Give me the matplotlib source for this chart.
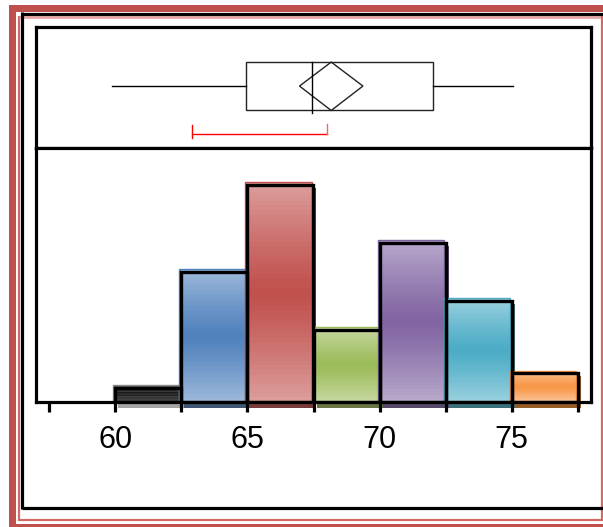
import matplotlib
matplotlib.use('Agg')
import matplotlib.pyplot as plt
import numpy as np
from matplotlib.patches import Rectangle, Polygon
from matplotlib.lines import Line2D
from matplotlib.colors import to_rgb

# ---------------- data ----------------
bin_edges = [60.0, 62.5, 65.0, 67.5, 70.0, 72.5, 75.0, 77.5]
counts = [1, 9, 15, 5, 11, 7, 2]
bar_colors = ['#2a2a2a', '#4F81BD', '#C0504D', '#9BBB59', '#8064A2', '#4BACC6', '#F79646']
shadow_colors = ['#9a9a9a', '#2a4566', '#6a2523', '#55662e', '#45345a', '#24606e', '#8a4a10']
tick_positions = [57.5, 60, 62.5, 65, 67.5, 70, 72.5, 75, 77.5]
tick_labels = ['', '60', '', '65', '', '70', '', '75', '']

box_min, box_q1, box_median, box_q3, box_max = 59.87, 64.93, 67.46, 72.03, 75.05
mean_lo, mean_hi = 66.97, 69.37
short_lo, short_hi = 62.92, 68.01

# ---------------- figure ----------------
W, H = 603, 527
fig = plt.figure(figsize=(W / 100, H / 100), dpi=100)
fig.patch.set_facecolor('white')


def fx(px):
    return px / W


def fy(py):
    return 1 - py / H


def fig_line(xs, ys, color, lw):
    fig.add_artist(Line2D([fx(x) for x in xs], [fy(y) for y in ys],
                          transform=fig.transFigure, color=color, lw=lw,
                          solid_capstyle='butt'))


def fig_rect(x0, y0, x1, y1, color):
    fig.add_artist(Rectangle((fx(x0), fy(y1)), fx(x1) - fx(x0), fy(y0) - fy(y1),
                             transform=fig.transFigure, facecolor=color,
                             edgecolor='none'))


# decorative frame
red = '#C0504D'
fig_rect(9, 5, 16, 527, red)          # thick left band
fig_rect(9, 5, 603, 12, red)          # thick top band
fig_rect(9, 524, 603, 527, red)       # bottom band
fig_line([19, 19], [16, 520.5], '#D46A67', 1.6)
fig_line([19, 603], [16.5, 16.5], '#E6A09E', 1.8)
fig_line([19, 603], [520, 520], '#D46A67', 1.6)
fig_line([601.8, 601.8], [16, 520.5], '#D46A67', 1.6)
fig_line([22.5, 22.5], [12, 509], 'black', 2.3)
fig_line([21.5, 603], [13.5, 13.5], 'black', 2.3)
fig_line([21.5, 603], [508, 508], 'black', 2.3)

# axes placement (pixels)
L, R = 36, 591
T_box, SEP, BASE = 27, 148, 402
ax_box = fig.add_axes([fx(L), fy(SEP), fx(R) - fx(L), fy(T_box) - fy(SEP)])
ax = fig.add_axes([fx(L), fy(BASE), fx(R) - fx(L), fy(SEP) - fy(BASE)])

xlim = (57.0, 78.0)
ylim = (0, 17.55)
for a in (ax_box, ax):
    a.set_xlim(*xlim)
    for s in a.spines.values():
        s.set_linewidth(2.3)
        s.set_color('black')
ax.set_ylim(*ylim)
ax_box.set_ylim(0, 1)
ax_box.set_xticks([])
ax_box.set_yticks([])

# ---------------- histogram ----------------
ux = (xlim[1] - xlim[0]) / (R - L)        # data units per pixel (x)
uy = (ylim[1] - ylim[0]) / (BASE - SEP)   # data units per pixel (y)


def grad_color(base, t, black=False):
    b = np.array(to_rgb(base))
    m = abs(t - 0.5) * 2
    if black:
        v = 0.08 + 0.25 * m + (0.08 if int(t * 20) % 2 == 0 else 0)
        return (v, v, v)
    k = 0.45 * m ** 1.2
    return tuple(b * (1 - k) + k)


N = 48
for i, c in enumerate(counts):
    x0, x1 = bin_edges[i], bin_edges[i + 1]
    col = bar_colors[i]
    # shadow
    ax.add_patch(Rectangle((x0 + 3 * ux, -6 * uy), x1 - x0, c + 3 * uy,
                           facecolor=shadow_colors[i], edgecolor='none',
                           alpha=0.9, zorder=1.2, clip_on=False))
    # gradient fill (slightly offset up/left)
    fx0 = x0 - 2 * ux
    top = c + 2.5 * uy
    for k in range(N):
        t0 = k / N
        ax.add_patch(Rectangle((fx0, top * t0), x1 - x0, top / N * 1.02,
                               facecolor=grad_color(col, (k + 0.5) / N, black=(i == 0)),
                               edgecolor='none', zorder=1.5))
    ax.add_patch(Rectangle((fx0, 0), x1 - x0, top, facecolor='none',
                           edgecolor=col if i else '#888888', lw=1.0, zorder=1.6))
    # black outline
    ax.add_patch(Rectangle((x0, 0), x1 - x0, c, facecolor='none', edgecolor='black',
                           lw=2.4, zorder=2.2, joinstyle='miter'))

ax.set_yticks([])
ax.set_xticks(tick_positions)
ax.set_xticklabels(tick_labels, family='Liberation Sans', fontsize=22)
ax.tick_params(axis='x', direction='out', length=7, width=2.3, pad=9.5, color='black')

# ---------------- box plot ----------------
yc, ylo, yhi = 0.512, 0.31, 0.71
ax_box.plot([box_min, box_q1], [yc, yc], color='black', lw=1.0)
ax_box.plot([box_q3, box_max], [yc, yc], color='black', lw=1.0)
ax_box.add_patch(Rectangle((box_q1, ylo), box_q3 - box_q1, yhi - ylo,
                           facecolor='none', edgecolor='#222222', lw=1.0))
ax_box.plot([box_median, box_median], [ylo - 0.02, yhi], color='black', lw=1.0)
mc = (mean_lo + mean_hi) / 2
ax_box.add_patch(Polygon([[mean_lo, yc], [mc, yhi], [mean_hi, yc], [mc, ylo]],
                         closed=True, facecolor='none', edgecolor='#222222', lw=1.0))
yb = 0.116
ax_box.plot([short_lo, short_hi], [yb, yb], color='red', lw=1.0)
ax_box.plot([short_lo, short_lo], [yb - 0.03, yb + 0.07], color='red', lw=1.0)
ax_box.plot([short_hi, short_hi], [yb, yb + 0.085], color='#ff6060', lw=1.0)

fig.savefig('out.png', dpi=100)
